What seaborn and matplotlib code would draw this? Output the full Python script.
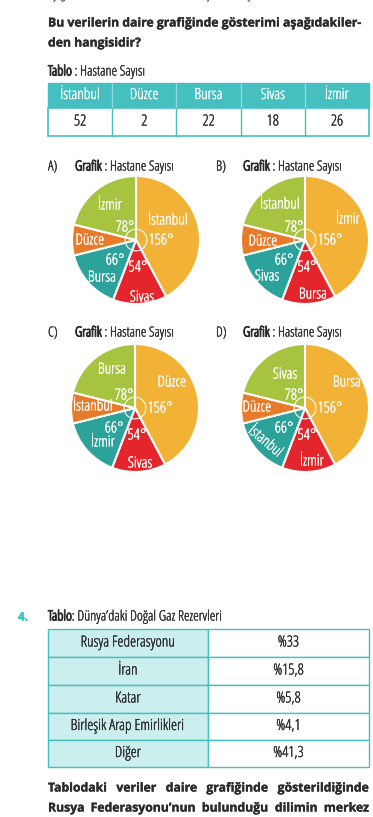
import matplotlib
matplotlib.use('Agg')
import matplotlib.pyplot as plt
import matplotlib.patheffects as pe
from matplotlib import font_manager
from matplotlib.patches import Rectangle, Circle
import seaborn as sns

# ---- data ----
table_cities = ['İstanbul', 'Düzce', 'Bursa', 'Sivas', 'İzmir']
table_counts = ['52', '2', '22', '18', '26']

# wedge sizes as drawn (degrees), clockwise from 12 o'clock
wedge_sizes = [152, 49, 55, 28, 76]
wedge_colors = ['#F1B236', '#E4262C', '#2BA39A', '#E87B2A', '#A6C43F']
degree_labels = ['156°', '54°', '66°', '', '78°']

option_letters = ['A)', 'B)', 'C)', 'D)']
option_names = [
    ['İstanbul', 'Sivas', 'Bursa', 'Düzce', 'İzmir'],
    ['İzmir', 'Bursa', 'Sivas', 'Düzce', 'İstanbul'],
    ['Düzce', 'Sivas', 'İzmir', 'İstanbul', 'Bursa'],
    ['Bursa', 'İzmir', 'İstanbul', 'Düzce', 'Sivas'],
]

gas_countries = ['Rusya Federasyonu', 'İran', 'Katar',
                 'Birleşik Arap Emirlikleri', 'Diğer']
gas_shares = ['%33', '%15,8', '%5,8', '%4,1', '%41,3']

# ---- fonts ----
sns.set_style('white')
fl = font_manager.fontManager.ttflist
installed = {f.name for f in fl}
condensed = {f.name for f in fl if f.stretch in ('condensed', 'semi-condensed')}
NARROW, STRETCH = 'Roboto', 'normal'
for n in ('Noto Sans', 'Open Sans', 'Roboto', 'DejaVu Sans'):
    if n in condensed:
        NARROW, STRETCH = n, 'condensed'
        break
BOLD = 'Open Sans' if 'Open Sans' in installed else 'Noto Sans'
plt.rcParams['font.family'] = [NARROW, 'DejaVu Sans']
plt.rcParams['font.stretch'] = STRETCH
plt.rcParams['font.weight'] = 'medium'

W, H = 373, 817
TEAL = '#45BFC0'
TEXT = '#2b2b2b'

fig = plt.figure(figsize=(W / 100, H / 100), dpi=100)
ax = fig.add_axes([0, 0, 1, 1])
ax.set_xlim(0, W)
ax.set_ylim(H, 0)
ax.axis('off')
renderer = fig.canvas.get_renderer()

# heavier strokes stand in for a condensed bold face
HEAVY = dict(path_effects=[pe.withStroke(linewidth=0.75, foreground=TEXT)])


def width_of(t):
    return t.get_window_extent(renderer).width


def runs(x, y, parts, size=8.5, target=None):
    # draw a sequence of texts one after another on a line
    ts = [ax.text(x, y, s, fontsize=size, va='center', color=TEXT, **kw)
          for s, kw in parts]
    gap = 0
    if target is not None and len(ts) > 1:
        gap = (target - x - sum(width_of(t) for t in ts)) / (len(ts) - 1)
    cur = x
    for t in ts:
        t.set_x(cur)
        cur += width_of(t) + gap
    return ts


# top cut-off line
ax.text(48, -5, 'Aşağıdaki tabloda bazı illerdeki hastane sayısı verilmiştir.',
        fontsize=8.5, family=BOLD, color='#555555', va='center')

# question
B = dict(family=BOLD, fontweight='bold')
ax.text(48, 23, 'Bu verilerin daire grafiğinde gösterimi aşağıdakiler-',
        fontsize=8.8, color=TEXT, va='center', **B)
ax.text(48, 43, 'den hangisidir?', fontsize=8.8, color=TEXT, va='center', **B)

runs(48, 72, [('Tablo', HEAVY), (' : Hastane Sayısı', {})], size=10.2)

# table 1
x0, x1 = 48, 369
cw = (x1 - x0) / len(table_cities)
y_top, y_mid, y_bot = 83, 108, 136
ax.add_patch(Rectangle((x0, y_top), x1 - x0, y_mid - y_top, facecolor=TEAL,
                       edgecolor=TEAL, lw=1))
ax.add_patch(Rectangle((x0, y_mid), x1 - x0, y_bot - y_mid, facecolor='white',
                       edgecolor=TEAL, lw=1.2))
for i, (city, cnt) in enumerate(zip(table_cities, table_counts)):
    cx = x0 + cw * (i + 0.5)
    ax.text(cx, (y_top + y_mid) / 2, city, color='white', fontsize=11,
            ha='center', va='center')
    ax.text(cx, (y_mid + y_bot) / 2, cnt, color=TEXT, fontsize=11,
            ha='center', va='center')
    if i > 0:
        xb = x0 + cw * i
        ax.plot([xb, xb], [y_top, y_mid], color='#8fd9da', lw=1)
        ax.plot([xb, xb], [y_mid, y_bot], color=TEAL, lw=1)

# pies
centers = [(136, 240), (305, 240), (135, 408), (305, 408)]
title_pos = [(48, 167), (216, 167), (48, 333), (216, 333)]
R = 64
name_off = [
    [(32, -19), (6, 58), (-34, 38), (-46, 1), (-26, -34)],
    [(43, -20), (8, 55), (-38, 37), (-42, 2), (-25, -35)],
    [(37, -25), (5, 56), (-32, 35), (-42, -1), (-23, -38)],
    [(42, -25), (7, 54), (-40, 34), (-48, 0), (-20, -33)],
]
deg_off = [(25, 1), (2, 28), (-21, 21), (0, 0), (-11, -12)]

for k in range(4):
    cx, cy = centers[k]
    tx, ty = title_pos[k]
    ax.text(tx, ty, option_letters[k], fontsize=10, color=TEXT, va='center')
    runs(tx + 27, ty, [('Grafik', HEAVY), (' : Hastane Sayısı', {})], size=10)

    pax = fig.add_axes([(cx - R) / W, 1 - (cy + R) / H, 2 * R / W, 2 * R / H])
    pax.pie(wedge_sizes, colors=wedge_colors, startangle=90, counterclock=False,
            radius=1, wedgeprops=dict(edgecolor='white', linewidth=1.5))
    pax.set_xlim(-1, 1)
    pax.set_ylim(-1, 1)
    pax.set_aspect('auto')
    pax.axis('off')
    pax.add_patch(Circle((0, 0), 0.17, fill=False, edgecolor='white', lw=0.8))

    for j in range(5):
        dx, dy = name_off[k][j]
        rot = -40 if (k == 3 and j == 2) else 0
        pax.text(dx / R, -dy / R, option_names[k][j], color='white',
                 fontsize=11, ha='center', va='center', rotation=rot)
        if degree_labels[j]:
            ddx, ddy = deg_off[j]
            pax.text(ddx / R, -ddy / R, degree_labels[j], color='white',
                     fontsize=11, ha='center', va='center')

# question 4
ax.text(18, 617, '4.', fontsize=8.5, color='#3DBDBE', va='center', **B)
runs(48, 617, [('Tablo', HEAVY), (': Dünya’daki Doğal Gaz Rezervleri', {})],
     size=10.2)

row_edges = [629, 657, 685, 713, 740, 767]
xs = 208
for i, (c, s) in enumerate(zip(gas_countries, gas_shares)):
    ya, yb = row_edges[i], row_edges[i + 1]
    ax.add_patch(Rectangle((x0, ya), xs - x0, yb - ya, facecolor='#CBEEEE',
                           edgecolor=TEAL, lw=1))
    ax.add_patch(Rectangle((xs, ya), x1 - xs, yb - ya, facecolor='white',
                           edgecolor=TEAL, lw=1))
    ax.text((x0 + xs) / 2, (ya + yb) / 2, c, fontsize=11, color=TEXT,
            ha='center', va='center')
    ax.text((xs + x1) / 2, (ya + yb) / 2, s, fontsize=11, color=TEXT,
            ha='center', va='center')

line1 = 'Tablodaki veriler daire grafiğinde gösterildiğinde'.split()
line2 = 'Rusya Federasyonu’nun bulunduğu dilimin merkez'.split()
for words, y in ((line1, 788), (line2, 808)):
    runs(48, y, [(w_, B) for w_ in words], size=8.8, target=x1)

# the condensed face is light; thicken the regular-weight strokes a little
if STRETCH == 'condensed':
    for a in fig.axes:
        for t in a.texts:
            if t.get_fontfamily()[0] == NARROW and not t.get_path_effects():
                t.set_path_effects([pe.withStroke(linewidth=0.22,
                                                  foreground=t.get_color())])

fig.savefig('out.png', dpi=100)
